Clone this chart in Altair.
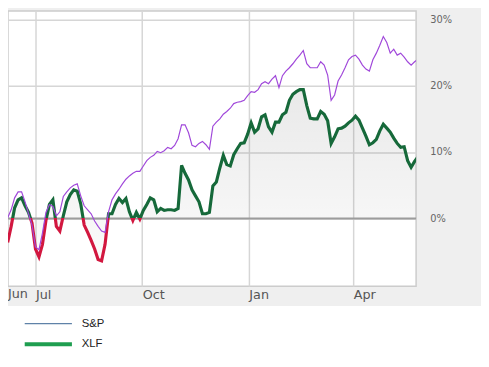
import altair as alt
import pandas as pd

# ---- data ----
first_date = "2012-06-01"
step = "3D"
sp = [2.8, 1.3, 0.1, 1.3, 3.1, 4.0, 4.0, 2.5, 0.7, -1.0,
      -4.3, -4.7, -2.2, 0.9, 2.1, 1.8, 0.4, 1.0, 3.3, 4.0,
      4.6, 5.0, 5.2, 3.4, 1.9, 1.3, 0.7, -0.4, -1.2, -1.9,
      -2.1, 1.0, 2.8, 3.7, 4.4, 5.2, 5.9, 6.4, 6.8, 7.1,
      7.1, 7.9, 8.7, 9.2, 9.5, 10.1, 9.9, 10.2, 10.7, 10.5,
      11.0, 12.0, 14.1, 14.1, 12.9, 11.0, 10.8, 11.3, 11.6, 11.1,
      10.4, 13.9, 14.5, 15.0, 15.7, 16.1, 16.6, 17.3, 17.5, 17.6,
      17.8, 18.5, 19.1, 19.0, 19.4, 20.3, 20.6, 20.3, 21.0, 21.5,
      19.7, 21.5, 22.2, 22.7, 23.3, 24.0, 24.6, 25.3, 23.3, 22.7,
      22.7, 22.7, 23.6, 23.1, 21.6, 17.8, 18.6, 20.7, 21.6, 22.7,
      23.9, 24.4, 24.6, 24.0, 23.1, 22.5, 22.2, 23.9, 24.9, 26.1,
      27.4, 26.5, 24.9, 25.5, 24.6, 24.9, 24.3, 23.6, 23.1, 23.6,
      24.0]
xlf = [2.7, -0.1, -3.6, -1.2, 1.6, 2.8, 3.1, 1.9, 0.9, -0.7,
       -4.6, -5.8, -3.9, -0.3, 2.1, 2.8, -1.2, -1.9, 0.4, 2.5,
       3.6, 4.3, 4.1, 2.2, -1.0, -2.1, -3.3, -4.6, -6.2, -6.4,
       -3.9, 0.7, 0.7, 2.1, 3.0, 2.4, 3.0, 1.0, -0.3, 0.9,
       -0.1, 1.2, 2.1, 3.1, 2.8, 1.0, 1.5, 1.2, 1.3, 1.3,
       1.2, 1.5, 8.0, 6.8, 5.8, 4.3, 3.4, 2.5, 0.7, 0.7,
       0.9, 4.9, 5.5, 7.6, 9.5, 8.1, 7.9, 9.6, 10.5, 11.3,
       11.4, 12.7, 14.4, 13.0, 13.5, 15.3, 15.6, 13.8, 13.0, 14.5,
       14.5, 15.6, 16.0, 17.8, 18.7, 19.1, 19.4, 19.4, 17.0, 15.1,
       15.0, 15.0, 16.1, 15.7, 14.7, 11.3, 12.3, 13.5, 13.6, 13.9,
       14.4, 14.8, 15.4, 14.8, 13.6, 12.4, 11.1, 11.4, 11.9, 13.2,
       14.2, 13.6, 13.0, 12.1, 11.3, 10.7, 10.8, 8.7, 7.7, 8.6,
       9.3]
x_tick_months = [(2012, 7), (2012, 10), (2013, 1), (2013, 4)]
y_ticks = [0, 10, 20, 30]
series_names = ["S&P", "XLF"]
first_label = "Jun"

dates = pd.date_range(first_date, periods=len(sp), freq=step).strftime("%Y-%m-%d").tolist()
df = pd.DataFrame({"date": dates, "sp": sp, "xlf": xlf})
one = pd.DataFrame({"v": [0]})

# ---- styling ----
GREEN = "#16693a"
RED = "#d2173f"
PURPLE = "#a048da"
GRID = "#d6d6d6"
W, H = 415, 280

x_scale = alt.Scale(
    type="utc",
    domain=[alt.DateTime(year=2012, month=6, date=7, hours=6, minutes=45, utc=True),
            alt.DateTime(year=2013, month=5, date=25, hours=7, utc=True)],
)
y_scale = alt.Scale(domain=[-10.22, 31.26], nice=False, zero=False)

x_axis = alt.Axis(
    values=[alt.DateTime(year=y, month=m, date=1, utc=True) for y, m in x_tick_months],
    labelExpr="utcFormat(datum.value, '%b')",
    grid=True, gridColor=GRID, gridWidth=1.5,
    domain=False, ticks=False,
    labelAlign="left", labelBaseline="top", labelPadding=2,
    labelFont="DejaVu Sans", labelFontSize=13, labelColor="#555555",
    labelFlush=False, labelOverlap=False, title=None,
)
y_axis = alt.Axis(
    orient="right", values=y_ticks, labelExpr="datum.value + '%'",
    grid=True, gridColor=GRID, gridWidth=1.5,
    domain=False, ticks=False, labelPadding=14,
    labelFont="DejaVu Sans", labelFontSize=10, labelColor="#666666", title=None,
)

hi, lo = max(xlf), min(xlf)
off = hi / (hi - lo)
line_grad = {"gradient": "linear", "x1": 0, "y1": 0, "x2": 0, "y2": 1,
             "stops": [{"offset": 0, "color": GREEN}, {"offset": off, "color": GREEN},
                       {"offset": off, "color": RED}, {"offset": 1, "color": RED}]}
area_grad = {"gradient": "linear", "x1": 0, "y1": 0, "x2": 0, "y2": 1,
             "stops": [{"offset": 0, "color": "rgba(0,0,0,0.085)"},
                       {"offset": 1, "color": "rgba(0,0,0,0.015)"}]}

X = alt.X("date:T", scale=x_scale, axis=x_axis)

legend_bg = alt.Chart(one).mark_rect(color="white").encode(
    x=alt.value(0), x2=alt.value(481), y=alt.value(300), y2=alt.value(365))

area = alt.Chart(df).mark_area(clip=True, fill=area_grad).encode(
    x=X,
    y=alt.Y("xlf:Q", scale=y_scale, axis=y_axis),
    y2=alt.value(H),
)
zero = alt.Chart(one).mark_rule(color="#9c9c9c", strokeWidth=2).encode(
    y=alt.Y("v:Q", scale=y_scale, axis=y_axis))
xlf_line = alt.Chart(df).mark_line(clip=True, stroke=line_grad, strokeWidth=3.2).encode(
    x=X,
    y=alt.Y("xlf:Q", scale=y_scale, axis=y_axis),
)
sp_line = alt.Chart(df).mark_line(clip=True, color=PURPLE, strokeWidth=1.2).encode(
    x=X,
    y=alt.Y("sp:Q", scale=y_scale, axis=y_axis),
)
jun = alt.Chart(one).mark_text(text=first_label, align="left", baseline="top",
                               font="DejaVu Sans", fontSize=13, color="#555555").encode(
    x=alt.value(0), y=alt.value(H + 2))

leg_sp = alt.Chart(one).mark_rule(color="#5f82a8", strokeWidth=1.5).encode(
    x=alt.value(17), x2=alt.value(65), y=alt.value(318))
leg_xlf = alt.Chart(one).mark_rule(color="#1f9e50", strokeWidth=4).encode(
    x=alt.value(17), x2=alt.value(65), y=alt.value(339))
leg_t1 = alt.Chart(one).mark_text(text=series_names[0], align="left", baseline="middle",
                                  font="Liberation Sans", fontSize=11.5, color="#222222").encode(
    x=alt.value(75), y=alt.value(318))
leg_t2 = alt.Chart(one).mark_text(text=series_names[1], align="left", baseline="middle",
                                  font="Liberation Sans", fontSize=11.5, color="#222222").encode(
    x=alt.value(75), y=alt.value(339))

chart = alt.layer(
    legend_bg, area, zero, xlf_line, sp_line, jun, leg_sp, leg_xlf, leg_t1, leg_t2
).properties(
    width=W, height=H,
    autosize=alt.AutoSizeParams(type="none"),
    padding={"left": 0, "top": 0, "right": 66, "bottom": 71},
    background="#efefef",
).configure_view(fill="white", stroke="#cccccc", strokeWidth=1.5)

chart.save("out.html", embed_options={"renderer": "svg", "actions": False})
